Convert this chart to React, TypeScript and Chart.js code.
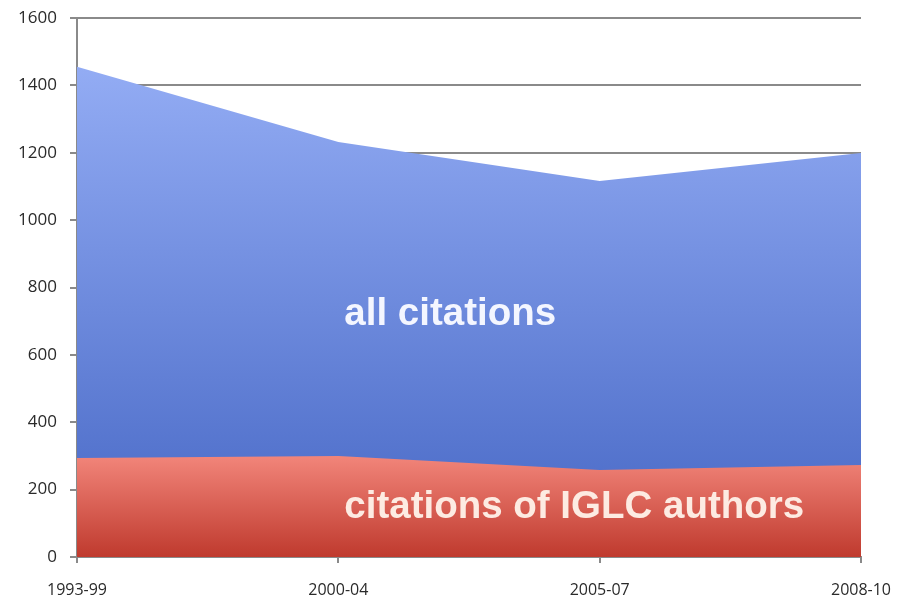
import React, { useEffect, useRef } from "react";
import { Chart, registerables } from "chart.js";

Chart.register(...registerables);

const categories = ["1993-99", "2000-04", "2005-07", "2008-10"];
const allCitations = [1455, 1232, 1116, 1199];
const iglcCitations = [294, 300, 258, 273];
const yTicks = [0, 200, 400, 600, 800, 1000, 1200, 1400, 1600];

function vGrad(chart: any, top: string, bottom: string, yTopVal: number) {
  const area = chart.chartArea;
  if (!area) return top;
  const ys = chart.scales.y;
  const y0 = ys ? ys.getPixelForValue(yTopVal) : area.top;
  const g = chart.ctx.createLinearGradient(0, y0, 0, area.bottom);
  g.addColorStop(0, top);
  g.addColorStop(1, bottom);
  return g;
}

const labelPlugin = {
  id: "areaLabels",
  afterDatasetsDraw(chart: any) {
    const ctx = chart.ctx;
    const xs = chart.scales.x;
    const ys = chart.scales.y;
    ctx.save();
    ctx.font = "bold 38.5px 'Liberation Sans', Arial, sans-serif";
    ctx.textBaseline = "alphabetic";
    ctx.textAlign = "left";
    ctx.fillStyle = "#f4f6ff";
    const xL = xs.getPixelForValue(1) + 6;
    ctx.fillText("all citations", xL, ys.getPixelForValue(690));
    ctx.fillStyle = "#fdebe2";
    ctx.fillText("citations of IGLC authors", xL, ys.getPixelForValue(115));
    ctx.restore();
  },
};

export default function App() {
  const ref = useRef<HTMLCanvasElement | null>(null);
  useEffect(() => {
    if (!ref.current) return;
    const chart = new Chart(ref.current, {
      type: "line",
      data: {
        labels: categories,
        datasets: [
          {
            label: "citations of IGLC authors",
            data: iglcCitations,
            fill: "origin",
            tension: 0,
            pointRadius: 0,
            borderWidth: 0,
            borderColor: "rgba(0,0,0,0)",
            backgroundColor: (c: any) => vGrad(c.chart, "#f2857a", "#bf3a2e", 300),
          },
          {
            label: "all citations",
            data: allCitations,
            fill: "origin",
            tension: 0,
            pointRadius: 0,
            borderWidth: 0,
            borderColor: "rgba(0,0,0,0)",
            backgroundColor: (c: any) => vGrad(c.chart, "#93acf4", "#4566c4", 1455),
          },
        ],
      },
      options: {
        animation: false,
        responsive: false,
        maintainAspectRatio: false,
        layout: { padding: { top: 18, right: 40, left: 0, bottom: 0 } },
        plugins: { legend: { display: false }, tooltip: { enabled: false } },
        scales: {
          x: {
            offset: false,
            grid: { drawOnChartArea: false, drawTicks: true, tickLength: 6, color: "#8a8a8a", lineWidth: 2 },
            border: { color: "#8a8a8a", width: 2 },
            ticks: {
              color: "#2a2a2a",
              font: { family: "'Open Sans', sans-serif", size: 16 },
              padding: 18,
              maxRotation: 0,
              autoSkip: false,
            },
            afterFit(scale: any) {
              scale.height = 46;
              scale.paddingLeft = 0;
              scale.paddingRight = 0;
            },
          },
          y: {
            min: 0,
            max: 1600,
            afterBuildTicks(scale: any) {
              scale.ticks = yTicks.map((v) => ({ value: v }));
            },
            grid: { color: "#8a8a8a", lineWidth: 2, drawTicks: true, tickLength: 7 },
            border: { color: "#8a8a8a", width: 2 },
            ticks: {
              color: "#2a2a2a",
              font: { family: "'Open Sans', sans-serif", size: 17 },
              padding: 13,
              callback: (v: any) => String(v),
            },
            afterFit(scale: any) {
              scale.width = 77;
              scale.paddingTop = 0;
              scale.paddingBottom = 0;
            },
          },
        },
      },
      plugins: [labelPlugin],
    });
    return () => chart.destroy();
  }, []);
  return (
    <div style={{ position: "fixed", left: 0, top: 0, width: 901, height: 603, background: "#fff" }}>
      <canvas ref={ref} width={901} height={603} style={{ width: 901, height: 603 }} />
    </div>
  );
}
